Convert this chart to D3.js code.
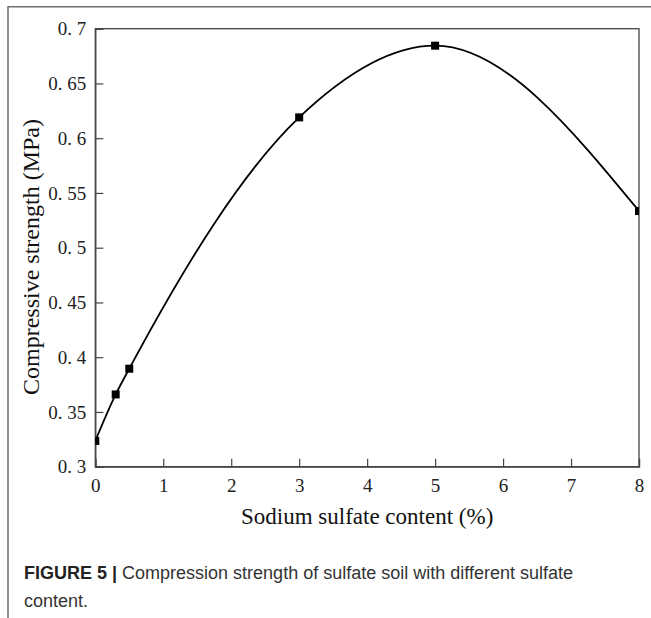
<!DOCTYPE html>
<html>
<head>
<meta charset="utf-8">
<script src="https://cdn.jsdelivr.net/npm/d3@7"></script>
<style>
  html, body { margin: 0; padding: 0; background: #fff; }
  svg { display: block; }
</style>
</head>
<body>
<svg id="fig" width="651" height="618"></svg>
<script>
// Sodium sulfate content (%) and measured compressive strength (MPa)
const sulfateContent = [0, 0.3, 0.5, 3, 5, 8];
const strength = [0.3235, 0.366, 0.3895, 0.619, 0.6845, 0.5335];

const xTicks = [0, 1, 2, 3, 4, 5, 6, 7, 8];
const yTicks = [0.3, 0.35, 0.4, 0.45, 0.5, 0.55, 0.6, 0.65, 0.7];

const xTitle = "Sodium sulfate content (%)";
const yTitle = "Compressive strength (MPa)";
const captionBold = "FIGURE 5 | ";
const captionLine1 = "Compression strength of sulfate soil with different sulfate";
const captionLine2 = "content.";

const svg = d3.select("#fig");
const plot = { left: 95.3, right: 639, top: 28.7, bottom: 466.7 };

const x = d3.scaleLinear().domain([0, 8]).range([plot.left, plot.right]);
const y = d3.scaleLinear().domain([0.3, 0.7]).range([plot.bottom, plot.top]);

const serif = "'Liberation Serif', 'Times New Roman', serif";
const sans = "'Liberation Sans', Arial, sans-serif";

// figure frame (top and left rules)
svg.append("path")
  .attr("d", `M8,618 L8,6.7 L651,6.7`)
  .attr("fill", "none")
  .attr("stroke", "#6e6e6e")
  .attr("stroke-width", 1.5);

// clip region for the data marks
svg.append("defs").append("clipPath").attr("id", "plotClip")
  .append("rect")
  .attr("x", plot.left).attr("y", plot.top)
  .attr("width", plot.right - plot.left).attr("height", plot.bottom - plot.top);

// plot box
svg.append("rect")
  .attr("x", plot.left).attr("y", plot.top)
  .attr("width", plot.right - plot.left).attr("height", plot.bottom - plot.top)
  .attr("fill", "none")
  .attr("stroke", "#444")
  .attr("stroke-width", 1.3);

const fmtY = v => d3.format(".2~f")(v).replace(".", ". ");

// y axis with inward ticks
const yAxis = svg.append("g")
  .attr("transform", `translate(${plot.left},0)`)
  .call(d3.axisLeft(y).tickValues(yTicks).tickSize(-8).tickPadding(9).tickFormat(fmtY));
yAxis.select(".domain").attr("stroke", "#444").attr("stroke-width", 1.3);
yAxis.selectAll(".tick line").attr("stroke", "#444").attr("stroke-width", 1.2);
yAxis.selectAll(".tick text")
  .attr("x", -9)
  .attr("font-family", serif).attr("font-size", 19).attr("fill", "#222");

// x axis with inward ticks
const xAxis = svg.append("g")
  .attr("transform", `translate(0,${plot.bottom})`)
  .call(d3.axisBottom(x).tickValues(xTicks).tickSize(-8).tickPadding(8).tickFormat(d3.format("d")));
xAxis.select(".domain").attr("stroke", "#444").attr("stroke-width", 1.3);
xAxis.selectAll(".tick line").attr("stroke", "#444").attr("stroke-width", 1.2);
xAxis.selectAll(".tick text")
  .attr("y", 25.3).attr("dy", null)
  .attr("font-family", serif).attr("font-size", 19).attr("fill", "#222");

// axis titles
svg.append("text")
  .attr("x", (plot.left + plot.right) / 2).attr("y", 524)
  .attr("text-anchor", "middle")
  .attr("font-family", serif).attr("font-size", 23).attr("fill", "#111")
  .text(xTitle);

svg.append("text")
  .attr("transform", `translate(39,257) rotate(-90)`)
  .attr("text-anchor", "middle")
  .attr("font-family", serif).attr("font-size", 24).attr("fill", "#111")
  .text(yTitle);

// smoothed curve through the measurements, plus square markers
const data = sulfateContent.map((c, i) => ({ c, s: strength[i] }));
const marks = svg.append("g").attr("clip-path", "url(#plotClip)");

marks.append("path")
  .datum(data)
  .attr("d", d3.line().x(d => x(d.c)).y(d => y(d.s)).curve(d3.curveMonotoneX))
  .attr("fill", "none")
  .attr("stroke", "#000")
  .attr("stroke-width", 1.8);

marks.selectAll("rect.pt")
  .data(data)
  .join("rect")
  .attr("class", "pt")
  .attr("x", d => x(d.c) - 4).attr("y", d => y(d.s) - 4)
  .attr("width", 8).attr("height", 8)
  .attr("fill", "#000");

// caption
const capSize = 18;
const cap = svg.append("text")
  .attr("x", 24).attr("y", 579.3)
  .attr("font-family", sans).attr("font-size", capSize).attr("fill", "#333");
cap.append("tspan").attr("font-weight", "bold").attr("fill", "#222").text(captionBold);
cap.append("tspan").text(captionLine1);

svg.append("text")
  .attr("x", 24).attr("y", 606.7)
  .attr("font-family", sans).attr("font-size", capSize).attr("fill", "#333")
  .text(captionLine2);
</script>
</body>
</html>
